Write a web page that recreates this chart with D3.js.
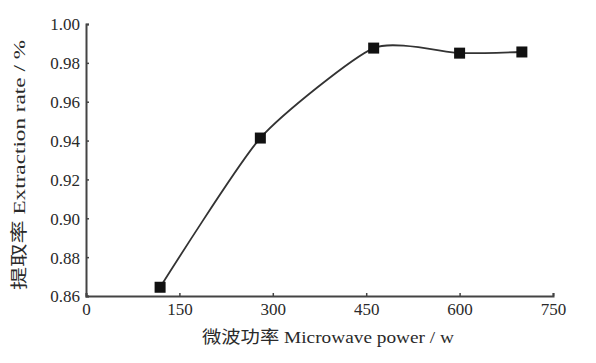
<!DOCTYPE html>
<html>
<head>
<meta charset="utf-8">
<script src="https://cdn.jsdelivr.net/npm/d3@7"></script>
<style>
  body { margin: 0; background: #fff; }
</style>
</head>
<body>
<div id="chart"></div>
<script>
// chart size and plot area
const width = 596;
const height = 363;
const margin = {left: 86, right: 43, top: 24, bottom: 67};
const serif = "Liberation Serif, Noto Sans CJK SC, serif";

// data
const power = [119, 280, 462, 600, 700];
const rate = [0.8645, 0.9413, 0.9876, 0.9850, 0.9856];
const xTicks = [0, 150, 300, 450, 600, 750];
const yTicks = [0.86, 0.88, 0.90, 0.92, 0.94, 0.96, 0.98, 1.00];

const svg = d3.select("#chart")
  .append("svg")
  .attr("width", width)
  .attr("height", height);

const x = d3.scaleLinear()
  .domain([0, 750])
  .range([margin.left, width - margin.right]);

const y = d3.scaleLinear()
  .domain([0.86, 1.00])
  .range([height - margin.bottom, margin.top]);

// x axis, ticks point inward
const gx = svg.append("g")
  .attr("transform", `translate(0,${height - margin.bottom})`)
  .call(d3.axisBottom(x).tickValues(xTicks).tickSize(-3).tickPadding(9)
    .tickFormat(d3.format("d")));

// y axis
const gy = svg.append("g")
  .attr("transform", `translate(${margin.left},0)`)
  .call(d3.axisLeft(y).tickValues(yTicks).tickSize(-3).tickPadding(6)
    .tickFormat(d3.format(".2f")));

[gx, gy].forEach(g => {
  g.attr("font-family", serif);
  g.select(".domain").attr("stroke", "#444").attr("stroke-width", 2);
  g.selectAll(".tick line").attr("stroke", "#444").attr("stroke-width", 1.5);
  g.selectAll(".tick text")
    .attr("font-family", serif)
    .attr("font-size", 17)
    .attr("fill", "#2a2a2a");
});
gy.selectAll(".tick text").attr("dy", "0.35em");
gx.selectAll(".tick text").attr("dy", "0.6em");

// smooth line through the points
const pts = power.map((p, i) => [p, rate[i]]);
const line = d3.line()
  .x(d => x(d[0]))
  .y(d => y(d[1]))
  .curve(d3.curveCardinal.tension(0.4));

svg.append("path")
  .datum(pts)
  .attr("fill", "none")
  .attr("stroke", "#333")
  .attr("stroke-width", 1.8)
  .attr("d", line);

// square markers
const ms = 11;
svg.selectAll(".marker")
  .data(pts)
  .enter()
  .append("rect")
    .attr("class", "marker")
    .attr("x", d => x(d[0]) - ms / 2)
    .attr("y", d => y(d[1]) - ms / 2)
    .attr("width", ms)
    .attr("height", ms)
    .attr("fill", "#111");

// axis titles
svg.append("text")
  .attr("x", 202)
  .attr("y", 343)
  .attr("font-family", serif)
  .attr("font-size", 17)
  .attr("fill", "#2a2a2a")
  .attr("textLength", 252)
  .attr("lengthAdjust", "spacingAndGlyphs")
  .text("微波功率 Microwave power / w");

svg.append("text")
  .attr("transform", "translate(25,290) rotate(-90)")
  .attr("font-family", serif)
  .attr("font-size", 17)
  .attr("fill", "#2a2a2a")
  .attr("textLength", 250)
  .attr("lengthAdjust", "spacingAndGlyphs")
  .text("提取率 Extraction rate / %");
</script>
</body>
</html>
